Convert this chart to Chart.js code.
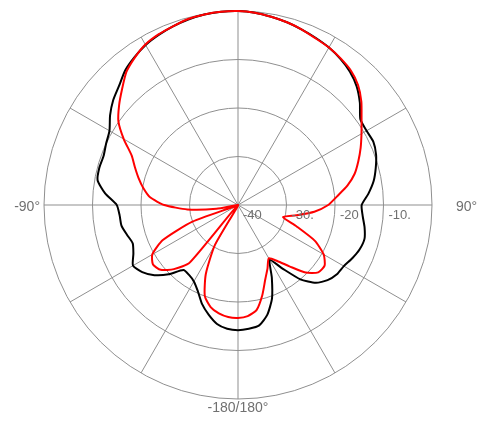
<!DOCTYPE html>
<html>
<head>
<meta charset="utf-8">
<script src="https://cdn.jsdelivr.net/npm/chart.js@4"></script>
<style>
  html, body { margin: 0; padding: 0; background: #fff; }
  canvas { display: block; }
</style>
</head>
<body>
<canvas id="pattern" width="479" height="421"></canvas>
<script>
// azimuth in degrees, clockwise from the top (0 = up, 90 = right)
const azimuth = [
  0, 5, 10, 15, 20, 25, 30, 35, 40, 45, 50, 55, 60, 65, 70, 75, 80, 85,
  90, 95, 100, 105, 110, 115, 120, 125, 130, 135, 140, 145, 150, 155, 160, 165, 170, 175,
  180, -175, -170, -165, -160, -155, -150, -145, -140, -135, -130, -125, -120, -115, -110, -105, -100, -95,
  -90, -85, -80, -75, -70, -65, -60, -55, -50, -45, -40, -35, -30, -25, -20, -15, -10, -5
];

// gain in dB, red trace
const redGain = [
  0, -0.2, -0.6, -1.0, -1.5, -2.1, -2.5, -3.1, -3.8, -5.0, -6.8, -8.9, -10.6, -12.1, -13.6, -15.1, -17.1, -19.5,
  -21.4, -24.2, -27.8, -30.4, -27.2, -22.5, -19.6, -18.2, -18.4, -20.3, -23.5, -25.9, -27.3, -25.6, -23.6, -20.7, -18.0, -17.0,
  -16.7, -16.8, -17.3, -18.2, -20.0, -24.3, -30.5, -40, -24.5, -21.3, -19.2, -18.6, -19.6, -22.9, -30.0, -40, -35.5, -29.5,
  -24.8, -21.8, -20.2, -18.8, -17.4, -15.8, -12.8, -9.9, -8.0, -6.2, -4.2, -2.9, -1.8, -1.2, -0.8, -0.3, -0.1, 0
];

// gain in dB, black trace
const blackGain = [
  0, -0.2, -0.6, -1.0, -1.5, -2.0, -2.5, -3.2, -4.1, -5.4, -7.2, -9.2, -9.4, -9.2, -9.7, -10.6, -11.6, -13.0,
  -14.5, -14.2, -13.5, -13.0, -13.3, -14.0, -14.8, -15.1, -15.9, -17.3, -20.0, -24.0, -26.9, -23.5, -19.5, -16.6, -14.8, -14.4,
  -14.2, -14.4, -15.1, -16.6, -18.3, -20.4, -21.8, -22.4, -22.5, -19.8, -17.5, -15.9, -15.0, -16.2, -16.9, -16.3, -15.6, -15.5,
  -15.0, -12.5, -10.6, -10.4, -10.5, -10.0, -9.4, -7.8, -6.4, -5.3, -3.8, -2.8, -1.9, -1.3, -0.8, -0.4, -0.1, 0
];

const ringValues = [-40, -30, -20, -10];
const ringLabels = ['-40', '-30.', '-20', '-10.'];

const axisAngles = [-90, 90, 180];
const axisLabels = ['-90°', '90°', '-180/180°'];

const gridColor = '#8f8f8f';
const textColor = '#707070';

const polarText = {
  id: 'polarText',
  afterDraw(chart) {
    const scale = chart.scales.r;
    const ctx = chart.ctx;
    ctx.save();
    ctx.fillStyle = textColor;
    ctx.font = '13px "Liberation Sans", Arial, sans-serif';
    ctx.textBaseline = 'middle';
    ctx.textAlign = 'left';
    ringValues.forEach((v, i) => {
      const d = scale.getDistanceFromCenterForValue(v);
      ctx.fillText(ringLabels[i], scale.xCenter + d + 5, scale.yCenter + 10);
    });

    ctx.font = '14px "Liberation Sans", Arial, sans-serif';
    axisAngles.forEach((a, i) => {
      const idx = azimuth.indexOf(a);
      if (a === -90) {
        const p = scale.getPointPosition(idx, scale.drawingArea + 4);
        ctx.textAlign = 'right';
        ctx.fillText(axisLabels[i], p.x, p.y + 2);
      } else if (a === 90) {
        const p = scale.getPointPosition(idx, scale.drawingArea + 24);
        ctx.textAlign = 'left';
        ctx.fillText(axisLabels[i], p.x, p.y + 2);
      } else {
        const p = scale.getPointPosition(idx, scale.drawingArea + 9);
        ctx.textAlign = 'center';
        ctx.fillText(axisLabels[i], p.x, p.y);
      }
    });
    ctx.restore();
  }
};

new Chart(document.getElementById('pattern'), {
  type: 'radar',
  data: {
    labels: azimuth,
    datasets: [
      {
        label: 'red',
        data: redGain,
        borderColor: '#ff0000',
        borderWidth: 2,
        pointRadius: 0,
        fill: false,
        tension: 0.2
      },
      {
        label: 'black',
        data: blackGain,
        borderColor: '#000000',
        borderWidth: 2,
        pointRadius: 0,
        fill: false,
        tension: 0.2
      }
    ]
  },
  options: {
    responsive: false,
    animation: false,
    layout: { padding: { left: 44, right: 47, top: 11, bottom: 22 } },
    plugins: {
      legend: { display: false },
      tooltip: { enabled: false }
    },
    scales: {
      r: {
        min: -40,
        max: 0,
        ticks: { stepSize: 10, display: false },
        pointLabels: { display: false },
        grid: { circular: true, color: gridColor, lineWidth: 1 },
        angleLines: {
          color: gridColor,
          lineWidth: (ctx) => (ctx.index % 6 === 0 ? 1 : 0)
        }
      }
    }
  },
  plugins: [polarText]
});
</script>
</body>
</html>
